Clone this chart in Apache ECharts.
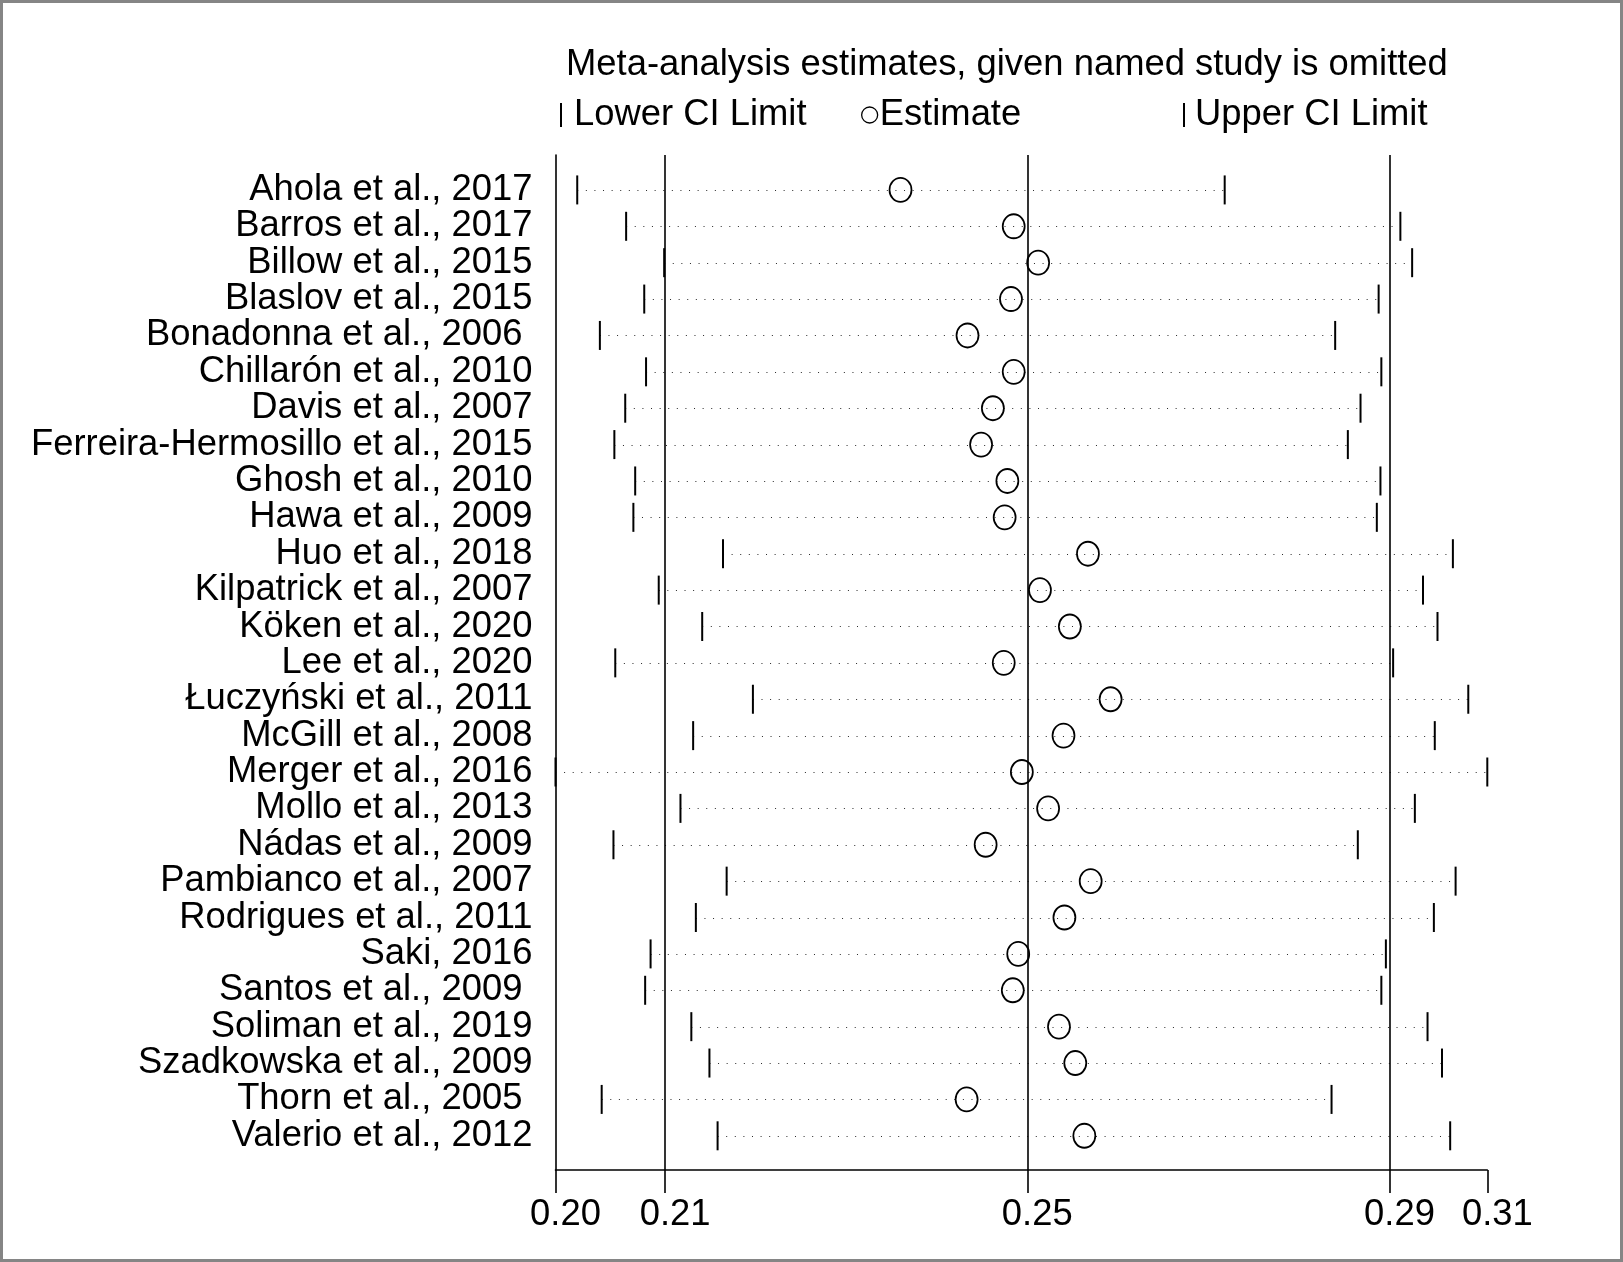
<!DOCTYPE html>
<html>
<head>
<meta charset="utf-8">
<script src="https://cdn.jsdelivr.net/npm/echarts@6/dist/echarts.min.js"></script>
<style>
html,body{margin:0;padding:0;background:#fff;}
#chart{width:1623px;height:1262px;}
</style>
</head>
<body>
<div id="chart"></div>
<script>
// ---- data ----
const studies = [
  'Ahola et al., 2017','Barros et al., 2017','Billow et al., 2015','Blaslov et al., 2015',
  'Bonadonna et al., 2006 ','Chillarón et al., 2010','Davis et al., 2007','Ferreira-Hermosillo et al., 2015',
  'Ghosh et al., 2010','Hawa et al., 2009','Huo et al., 2018','Kilpatrick et al., 2007',
  'Köken et al., 2020','Lee et al., 2020','Łuczyński et al., 2011','McGill et al., 2008',
  'Merger et al., 2016','Mollo et al., 2013','Nádas et al., 2009','Pambianco et al., 2007',
  'Rodrigues et al., 2011','Saki, 2016','Santos et al., 2009 ','Soliman et al., 2019',
  'Szadkowska et al., 2009','Thorn et al., 2005 ','Valerio et al., 2012'
];
const lowerCI = [0.2049,0.2103,0.2145,0.2123,0.2074,0.2125,0.2102,0.2090,0.2113,0.2111,0.2210,0.2139,0.2187,0.2091,0.2243,0.2177,0.2025,0.2163,0.2089,0.2214,0.2180,0.2130,0.2124,0.2175,0.2195,0.2076,0.2204];
const estimate = [0.2406,0.2531,0.2558,0.2528,0.2480,0.2531,0.2508,0.2495,0.2524,0.2521,0.2613,0.2560,0.2593,0.2520,0.2638,0.2586,0.2540,0.2569,0.2500,0.2616,0.2587,0.2536,0.2530,0.2581,0.2599,0.2479,0.2609];
const upperCI = [0.2764,0.2958,0.2971,0.2934,0.2886,0.2937,0.2914,0.2900,0.2936,0.2932,0.3016,0.2983,0.2999,0.2950,0.3033,0.2996,0.3054,0.2974,0.2911,0.3019,0.2995,0.2942,0.2937,0.2988,0.3004,0.2882,0.3013];
// overall (all studies) lower CI, estimate, upper CI
const overall = [0.2146, 0.2546, 0.2946];
const tickValues = [0.2025, 0.2146, 0.2546, 0.2946, 0.3054];
const tickLabels = ['0.20', '0.21', '0.25', '0.29', '0.31'];
const titleText = 'Meta-analysis estimates, given named study is omitted';

// ---- build ----
const FONT = 'Liberation Sans';
const rows = studies.map((s, i) => i + 1);
const rangeData = studies.map((s, i) => [lowerCI[i], upperCI[i], i + 1]);
const lowerData = studies.map((s, i) => [lowerCI[i], i + 1]);
const upperData = studies.map((s, i) => [upperCI[i], i + 1]);
const estData = studies.map((s, i) => [estimate[i], i + 1]);

const chart = echarts.init(document.getElementById('chart'));
const txt = {fontFamily: FONT, fontSize: 36.4, color: '#000'};
const ellipse = 'path://M50,0 A50,50 0 1 1 50,100 A50,50 0 1 1 50,0 Z';

chart.setOption({
  animation: false,
  backgroundColor: '#fff',
  title: {
    text: titleText, left: 566, top: 47, padding: 0,
    textStyle: Object.assign({}, txt, {fontWeight: 'normal', lineHeight: 36})
  },
  legend: [
    {data: [{name: 'Lower CI Limit', icon: 'rect', itemStyle: {color: '#000', borderWidth: 0}}],
     left: 560, top: 97, padding: 0, itemWidth: 2, itemHeight: 24, selectedMode: false,
     textStyle: Object.assign({lineHeight: 36, padding: [0, 0, 0, 7]}, txt)},
    {data: [{name: 'Estimate', icon: 'circle', itemStyle: {color: 'rgba(0,0,0,0)', borderColor: '#000', borderWidth: 1.3}}],
     left: 861, top: 97, padding: 0, itemWidth: 16, itemHeight: 16, selectedMode: false,
     textStyle: Object.assign({lineHeight: 36, padding: [0, 0, 0, -3]}, txt)},
    {data: [{name: 'Upper CI Limit', icon: 'rect', itemStyle: {color: '#000', borderWidth: 0}}],
     left: 1183, top: 97, padding: 0, itemWidth: 2, itemHeight: 24, selectedMode: false,
     textStyle: Object.assign({lineHeight: 36, padding: [0, 0, 0, 5]}, txt)}
  ],
  graphic: [{
    type: 'rect', silent: true, z: 100,
    shape: {x: 1.5, y: 1.5, width: 1620, height: 1259},
    style: {fill: 'none', stroke: '#858585', lineWidth: 3}
  }],
  grid: {left: 555.5, right: 135.7, top: 155, bottom: 92},
  xAxis: {
    type: 'value', min: Math.min(...lowerCI), max: Math.max(...upperCI),
    axisLine: {show: true, lineStyle: {color: '#000', width: 1.6}},
    axisTick: {show: true, customValues: tickValues, length: 23, lineStyle: {color: '#000', width: 1.6}},
    axisLabel: Object.assign({
      customValues: tickValues, margin: 27, padding: [0, 0, 0, 20],
      formatter: (v) => tickLabels[tickValues.findIndex(t => Math.abs(t - v) < 1e-6)]
    }, txt),
    splitLine: {show: false}
  },
  yAxis: {
    type: 'value', inverse: true, min: 0.04, max: 27.94,
    axisLine: {show: true, lineStyle: {color: '#000', width: 1.6}},
    axisTick: {show: false},
    axisLabel: Object.assign({
      customValues: rows, margin: 23,
      formatter: (v) => studies[Math.round(v) - 1] || ''
    }, txt),
    splitLine: {show: false}
  },
  series: [
    {
      type: 'custom', name: 'range', silent: true, z: 1,
      data: rangeData,
      encode: {x: [0, 1], y: 2},
      renderItem: function (params, api) {
        const p1 = api.coord([api.value(0), api.value(2)]);
        const p2 = api.coord([api.value(1), api.value(2)]);
        const y = Math.round(p1[1]) + 0.5;
        return {type: 'line', shape: {x1: p1[0], y1: y, x2: p2[0], y2: y},
                style: {stroke: '#2a2a2a', lineWidth: 1, lineDash: [1, 7.6]}};
      }
    },
    {
      type: 'scatter', name: 'Lower CI Limit', data: lowerData, z: 3,
      symbol: 'rect', symbolSize: [2, 29], itemStyle: {color: '#000', opacity: 1}
    },
    {
      type: 'scatter', name: 'Upper CI Limit', data: upperData, z: 3,
      symbol: 'rect', symbolSize: [2, 29], itemStyle: {color: '#000', opacity: 1}
    },
    {
      type: 'scatter', name: 'Estimate', data: estData, z: 4,
      symbol: ellipse, symbolSize: [22, 24],
      itemStyle: {color: 'rgba(0,0,0,0)', borderColor: '#000', borderWidth: 1.8, opacity: 1},
      markLine: {
        silent: true, symbol: ['none', 'none'], label: {show: false}, z: 2, precision: 6,
        lineStyle: {color: '#000', width: 1.6, type: 'solid', opacity: 1},
        data: overall.map(v => ({xAxis: v}))
      }
    }
  ]
});
</script>
</body>
</html>
